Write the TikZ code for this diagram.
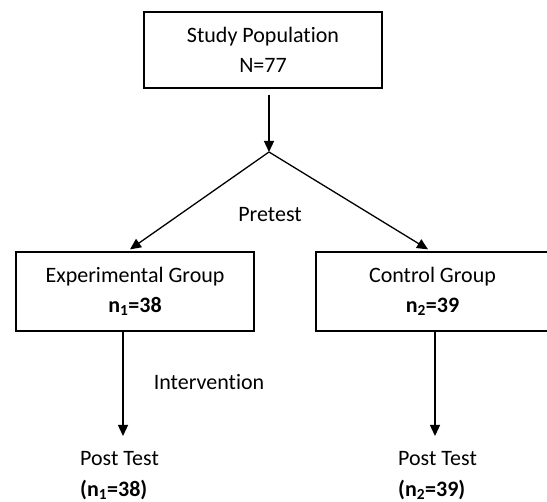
\documentclass[tikz,border=0pt]{standalone}
\usepackage{fontspec}
\setmainfont{Carlito}[Ligatures=NoCommon]
\usetikzlibrary{arrows.meta}
\begin{document}
\begin{tikzpicture}[x=1pt,y=-1pt,
  box/.style={draw, line width=1.3pt, inner sep=0pt, align=center, font=\fontsize{22}{30}\selectfont},
  lbl/.style={inner sep=0pt, font=\fontsize{22}{31}\selectfont},
  conn/.style={line width=1.3pt, -{Triangle[length=11pt,width=10pt]}}]
\useasboundingbox (0,0) rectangle (547,502);
\node[box, minimum width=238pt, minimum height=76pt] (top) at (263,50) {Study Population\\N=77};
\node[box, minimum width=238pt, minimum height=79pt] (lb) at (135,291.5) {Experimental Group\\\textbf{n\textsubscript{1}=38}};
\node[box, minimum width=233pt, minimum height=79pt] (rb) at (432.5,291.5) {Control Group\\\textbf{n\textsubscript{2}=39}};
\coordinate (apex) at (269,152);
\node[lbl] (pre) at (270,215) {Pretest};
\node[lbl] (int) at (209,382) {Intervention};
\coordinate (e1) at (123,436);
\coordinate (e2) at (435,436);
\node[lbl, anchor=north west, align=left] (p1) at (80,451) {Post Test\\\textbf{(n\textsubscript{1}=38)}};
\node[lbl, anchor=north west, align=left] (p2) at (398,451) {Post Test\\\textbf{(n\textsubscript{2}=39)}};
\draw[conn] ([xshift=6pt,yshift=-6pt]top.south) -- (apex);
\draw[conn] (apex) -- ([xshift=-5pt,yshift=2pt]lb.north);
\draw[conn] (apex) -- ([xshift=-4.5pt,yshift=2pt]rb.north);
\draw[conn] (lb.south -| e1) -- (e1);
\draw[conn] (rb.south -| e2) -- (e2);
\end{tikzpicture}
\end{document}
